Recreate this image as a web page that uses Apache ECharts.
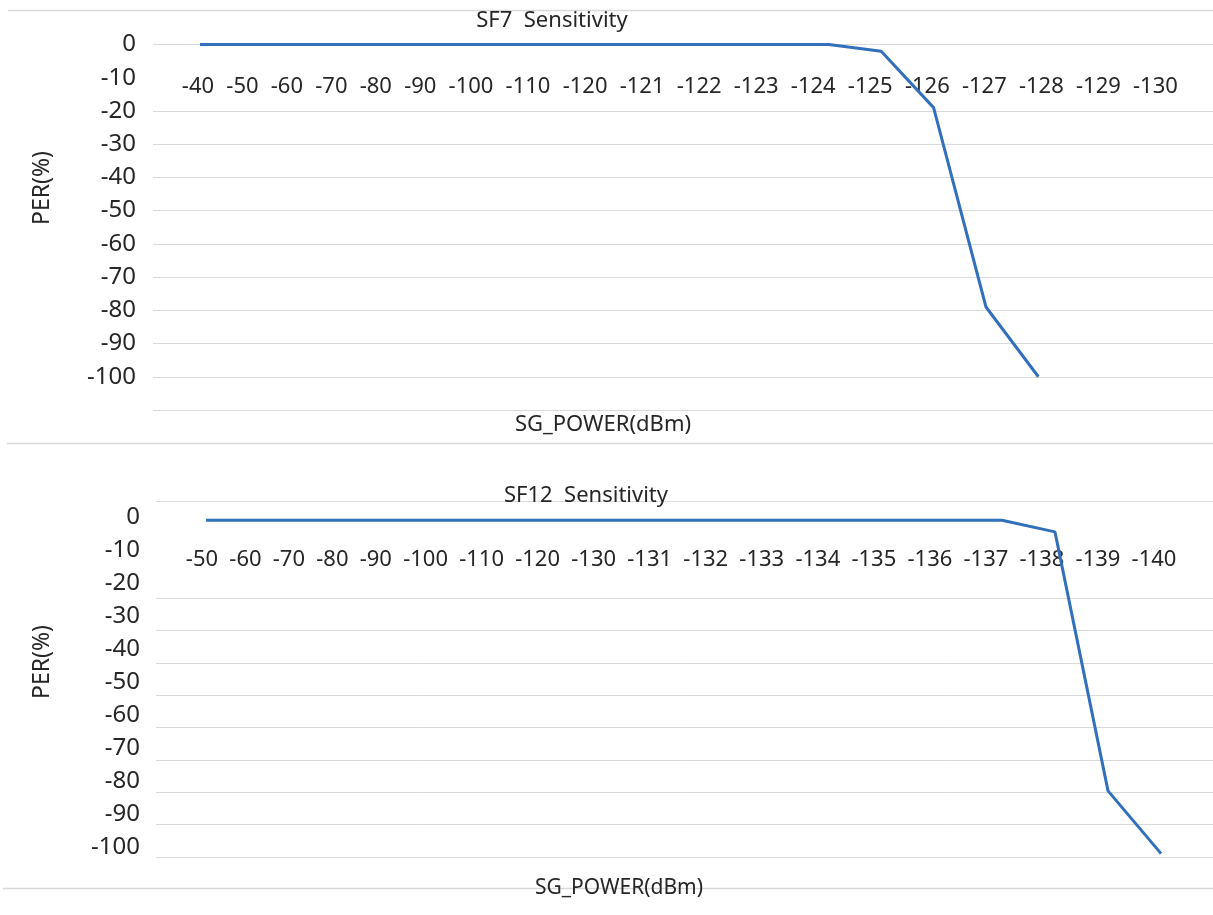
<!DOCTYPE html>
<html><head><meta charset="utf-8">
<script src="https://cdn.jsdelivr.net/npm/echarts@6/dist/echarts.min.js"></script>
<style>html,body{margin:0;padding:0;background:#fff}#c{width:1213px;height:915px}</style>
</head><body><div id="c"></div>
<script>
// ---- data ----
const sf7Power  = ['-40','-50','-60','-70','-80','-90','-100','-110','-120','-121','-122','-123','-124','-125','-126','-127','-128','-129','-130'];
const sf7Per    = [0,0,0,0,0,0,0,0,0,0,0,0,0,-2,-19,-79,-100,null,null];
const sf12Power = ['-50','-60','-70','-80','-90','-100','-110','-120','-130','-131','-132','-133','-134','-135','-136','-137','-138','-139','-140'];
const sf12Per   = [-1,-1,-1,-1,-1,-1,-1,-1,-1,-1,-1,-1,-1,-1,-1,-1,-4.5,-83,-102];
const perLabels = [0,-10,-20,-30,-40,-50,-60,-70,-80,-90,-100];
const sf7Grid   = [0,-20,-30,-40,-50,-60,-70,-80,-90,-100,-110];
const sf12Grid  = [5,-25,-35,-45,-55,-65,-75,-85,-95,-105];

// ---- style ----
const FONT = '"Noto Sans", "Open Sans", sans-serif';
const TXT = '#262626';
const GRID = '#d9d9d9';
const LINE = '#3270bb';
const XL = 22;      // x label font size

const chart = echarts.init(document.getElementById('c'), null, {renderer: 'canvas'});

// geometry
const top1 = 44.5, h1 = 365.5;
const sp1 = 52.4, first1 = 200;
const top2 = 501, h2 = 356;
const sp2 = 53.06, first2 = 206;
const y1Min = -110, y1Max = 0;
const y3Min = -103.03, y3Max = 4.85;

function labelShifts(labels, spacing, startShift, gap) {
  const ctx = document.createElement('canvas').getContext('2d');
  ctx.font = XL + 'px "Noto Sans"';
  const w = labels.map(t => ctx.measureText(t).width);
  const out = [];
  let x = startShift;
  for (let i = 0; i < labels.length; i++) {
    if (i > 0) x += w[i - 1] / 2 + gap + w[i] / 2;
    out.push(x - i * spacing);
  }
  return out;
}
function richFor(shifts) {
  const r = {};
  shifts.forEach((d, i) => {
    r['s' + i] = {fontSize: XL, fontFamily: FONT, color: TXT, lineHeight: 22,
      padding: d >= 0 ? [0, 0, 0, 2 * d] : [0, -2 * d, 0, 0]};
  });
  return r;
}
const sh1 = labelShifts(sf7Power, sp1, -2, 12.2);
const sh2 = labelShifts(sf12Power, sp2, -4, 11.2);
// put the category axis where PER = 0
const off1 = -h1 * (0 - y1Min) / (y1Max - y1Min);
const off2 = -h2 * (0 - y3Min) / (y3Max - y3Min);

const hiddenCat = (data, gi) => ({type: 'category', gridIndex: gi, data: data, show: false});
const tstyle = (fs) => ({fontFamily: FONT, fontSize: fs, fontWeight: 'normal', color: TXT});

const option = {
  backgroundColor: '#fff',
  animation: false,
  title: [
    {text: 'SF7  Sensitivity', left: 547, top: 5, textAlign: 'center', textStyle: tstyle(22)},
    {text: 'SF12  Sensitivity', left: 581, top: 480, textAlign: 'center', textStyle: tstyle(22)},
    {text: 'SG_POWER(dBm)', left: 598, top: 409, textAlign: 'center', textStyle: tstyle(22)},
    {text: 'SG_POWER(dBm)', left: 614, top: 873, textAlign: 'center', textStyle: tstyle(21)}
  ],
  graphic: [
    {type: 'line', shape: {x1: 8, y1: 10.5, x2: 1213, y2: 10.5}, style: {stroke: GRID, lineWidth: 1.5}},
    {type: 'line', shape: {x1: 7, y1: 443.5, x2: 1213, y2: 443.5}, style: {stroke: GRID, lineWidth: 1.5}},
    {type: 'line', shape: {x1: 3, y1: 888.5, x2: 1213, y2: 888.5}, style: {stroke: GRID, lineWidth: 1.5}},
    {type: 'text', x: 42, y: 188, rotation: Math.PI / 2,
      style: {text: 'PER(%)', font: '23px ' + FONT, fill: TXT, align: 'center', verticalAlign: 'middle'}},
    {type: 'text', x: 42, y: 662, rotation: Math.PI / 2,
      style: {text: 'PER(%)', font: '23px ' + FONT, fill: TXT, align: 'center', verticalAlign: 'middle'}}
  ],
  grid: [
    {left: 153, right: 0, top: top1, height: h1, containLabel: false},
    {left: first1 - sp1 / 2, width: sp1 * sf7Power.length, top: top1, height: h1, containLabel: false},
    {left: 156, right: 0, top: top2, height: h2, containLabel: false},
    {left: first2 - sp2 / 2, width: sp2 * sf12Power.length, top: top2, height: h2, containLabel: false}
  ],
  xAxis: [
    hiddenCat(sf7Power, 0),
    {type: 'category', gridIndex: 1, data: sf7Power, boundaryGap: true, position: 'bottom', offset: off1,
      axisLine: {show: false, onZero: false},
      axisTick: {show: false},
      axisLabel: {interval: 0, margin: 31.5, formatter: (v, i) => '{s' + i + '|' + v + '}', rich: richFor(sh1),
        fontSize: XL, fontFamily: FONT, color: TXT}},
    hiddenCat(sf12Power, 2),
    {type: 'category', gridIndex: 3, data: sf12Power, boundaryGap: true, position: 'bottom', offset: off2,
      axisLine: {show: false, onZero: false},
      axisTick: {show: false},
      axisLabel: {interval: 0, margin: 32, formatter: (v, i) => '{s' + i + '|' + v + '}', rich: richFor(sh2),
        fontSize: XL, fontFamily: FONT, color: TXT}}
  ],
  yAxis: [
    {type: 'value', gridIndex: 0, min: y1Min, max: y1Max,
      axisLine: {show: false}, axisTick: {show: false, customValues: sf7Grid},
      splitLine: {show: true, lineStyle: {color: GRID, width: 1}},
      axisLabel: {customValues: perLabels, margin: 17, fontSize: 24, fontFamily: FONT, color: TXT}},
    {type: 'value', gridIndex: 1, min: y1Min, max: y1Max, show: false, splitLine: {show: false}},
    {type: 'value', gridIndex: 2, min: -105, max: 5,
      axisLine: {show: false}, axisTick: {show: false, customValues: sf12Grid},
      splitLine: {show: true, lineStyle: {color: GRID, width: 1}},
      axisLabel: {show: false}},
    {type: 'value', gridIndex: 3, min: y3Min, max: y3Max,
      axisLine: {show: false}, axisTick: {show: false},
      splitLine: {show: false},
      axisLabel: {customValues: perLabels, margin: 39.5, fontSize: 24, fontFamily: FONT, color: TXT}}
  ],
  series: [
    {type: 'line', name: 'SF7', xAxisIndex: 1, yAxisIndex: 1, data: sf7Per, symbol: 'none',
      connectNulls: false, lineStyle: {color: LINE, width: 3}, z: 5},
    {type: 'line', name: 'SF12', xAxisIndex: 3, yAxisIndex: 3, data: sf12Per, symbol: 'none',
      connectNulls: false, lineStyle: {color: LINE, width: 3}, z: 5}
  ]
};
chart.setOption(option);
</script>
</body></html>
